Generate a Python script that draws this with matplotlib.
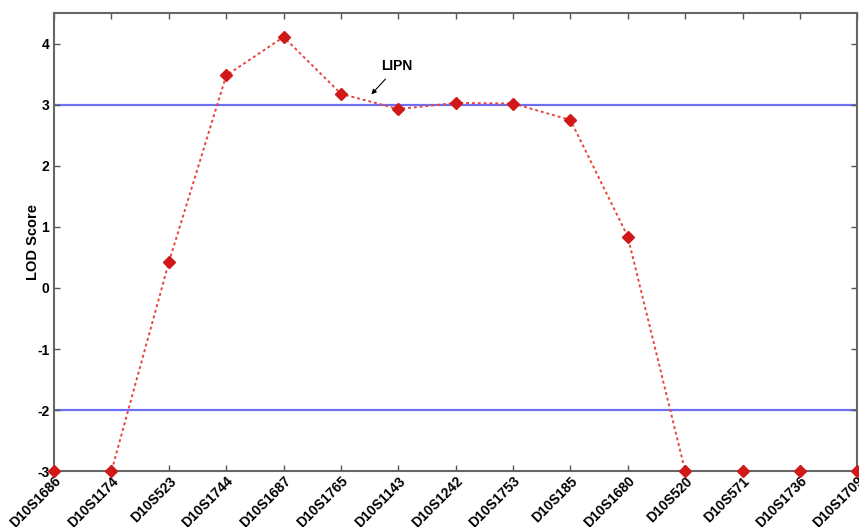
import matplotlib.pyplot as plt
import numpy as np

plt.rcParams['font.family'] = ['Liberation Sans', 'DejaVu Sans']

# markers along the chromosome and their LOD scores
markers = ["D10S1686", "D10S1174", "D10S523", "D10S1744", "D10S1687", "D10S1765",
           "D10S1143", "D10S1242", "D10S1753", "D10S185", "D10S1680", "D10S520",
           "D10S571", "D10S1736", "D10S1709"]
lod = [-3.0, -3.0, 0.42, 3.48, 4.11, 3.18, 2.93, 3.03, 3.02, 2.75, 0.84, -3.0, -3.0, -3.0, -3.0]
thresholds = [3, -2]
yticks = [-3, -2, -1, 0, 1, 2, 3, 4]

fig = plt.figure(figsize=(8.59, 5.27), dpi=100)
ax = fig.add_axes([0.063, 0.106, 0.935, 0.869])

x = np.arange(len(markers))
for t in thresholds:
    ax.axhline(t, color="#6f6ff5", lw=1.6, zorder=1)
ax.plot(x, lod, ls=(0, (1.5, 1.5)), color="#e8453f", lw=1.4, zorder=2)
ax.plot(x, lod, ls="none", marker="D", color="#d01818", ms=6.5, zorder=3, clip_on=False)

ax.annotate("LIPN", xy=(5.53, 3.17), xytext=(5.98, 3.63), fontsize=10, fontweight="bold",
            ha="center", va="center",
            arrowprops=dict(arrowstyle="-|>", color="black", lw=0.8, mutation_scale=7,
                            shrinkA=3, shrinkB=0))

ax.set_xlim(0, len(markers) - 1)
ax.set_ylim(-3, 4.5)
ax.set_yticks(yticks)
ax.set_yticklabels([str(v) for v in yticks], fontweight="bold", fontsize=10)
ax.set_xticks(x)
ax.set_xticklabels(markers, rotation=45, ha="right", rotation_mode="anchor",
                   fontweight="bold", fontsize=10)
ax.set_ylabel("LOD Score", fontweight="bold", fontsize=10.5, labelpad=-2)

ax.tick_params(direction="in", top=True, right=True, color="#555555", length=4, width=1)
ax.tick_params(axis="x", pad=2)
for s in ax.spines.values():
    s.set_color("#666666")
    s.set_linewidth(1.5)

fig.savefig("out.png", dpi=100)
